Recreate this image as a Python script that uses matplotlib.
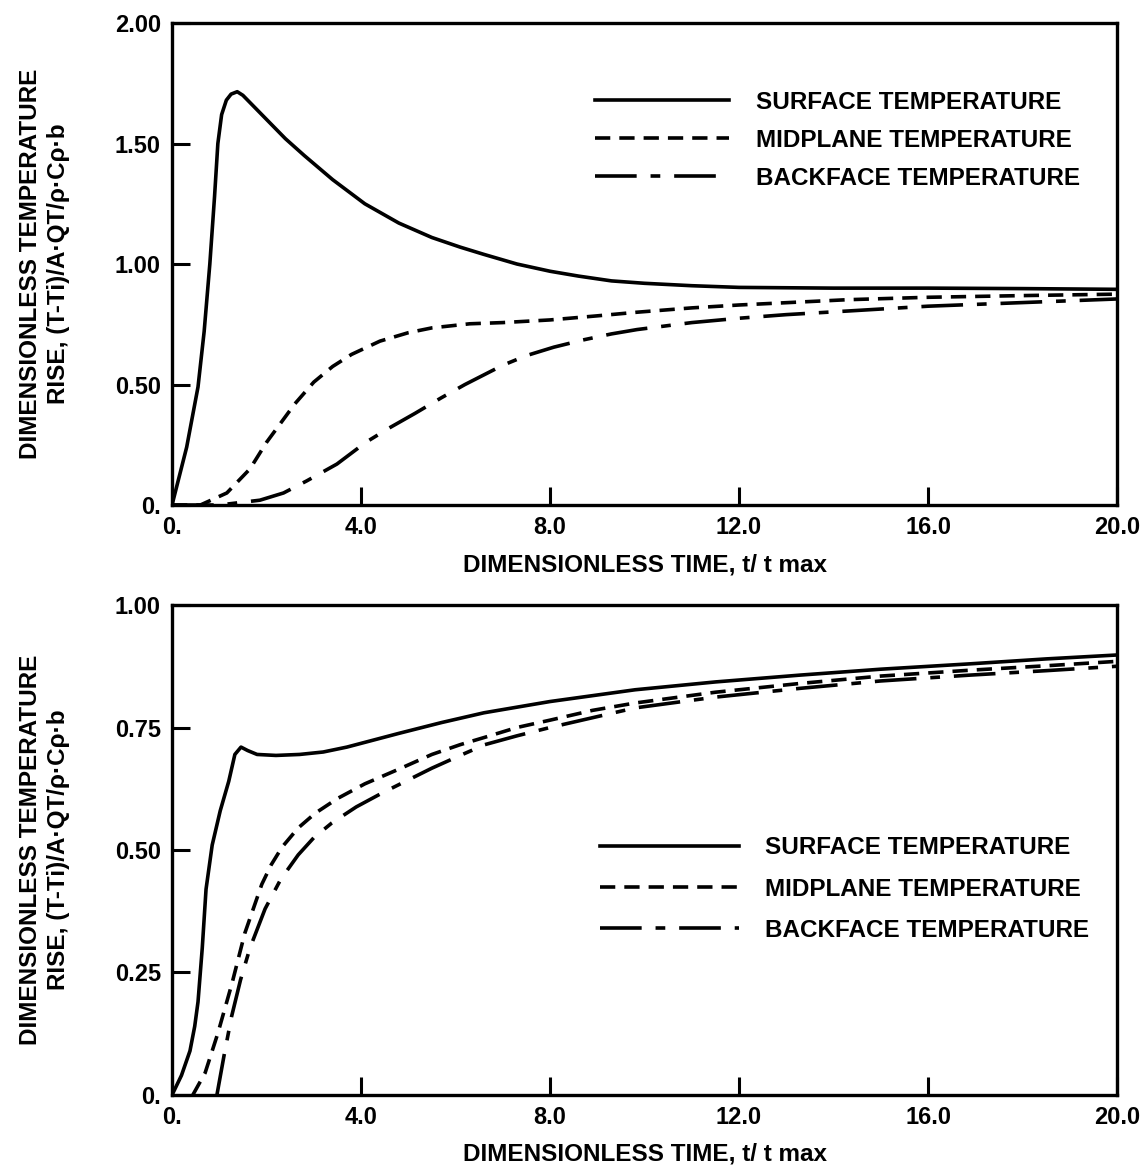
import matplotlib
matplotlib.use("Agg")
import matplotlib.pyplot as plt

plt.rcParams['font.family'] = ['Liberation Sans', 'DejaVu Sans']
plt.rcParams['font.weight'] = 'bold'
plt.rcParams['lines.scale_dashes'] = False

t_sup1 = [0, 0.31, 0.55, 0.68, 0.8, 0.9, 0.97, 1.05, 1.15, 1.25, 1.38, 1.5, 1.6, 1.7, 2.0, 2.4,
          2.8, 3.4, 4.08, 4.8, 5.5, 6.1, 6.6, 7.3, 8, 8.6, 9.3, 10, 11, 12, 14, 16, 18, 20]
T_sup1 = [0, 0.24, 0.49, 0.72, 1.0, 1.28, 1.5, 1.62, 1.68, 1.705, 1.715, 1.70, 1.68, 1.66, 1.60,
          1.52, 1.45, 1.35, 1.25, 1.17, 1.11, 1.07, 1.04, 1.0, 0.97, 0.95, 0.93, 0.92, 0.91, 0.903,
          0.90, 0.90, 0.898, 0.895]

t_mid1 = [0, 0.6, 1.16, 1.65, 2.0, 2.3, 2.6, 3.0, 3.4, 3.8, 4.4, 5.0, 5.5, 6.3, 7, 8, 9, 9.84,
          11, 12, 14.3, 16, 18, 20]
T_mid1 = [0, 0, 0.05, 0.15, 0.26, 0.34, 0.42, 0.51, 0.575, 0.625, 0.68, 0.715, 0.735, 0.752,
          0.757, 0.768, 0.785, 0.80, 0.818, 0.83, 0.852, 0.862, 0.869, 0.875]

t_back1 = [0, 1.0, 1.86, 2.36, 2.85, 3.49, 4.1, 4.6, 5.14, 5.7, 6.2, 6.6, 7.0, 7.5, 8.08, 8.7,
           9.3, 9.84, 11, 12, 13, 14.3, 16, 18, 20]
T_back1 = [0, 0, 0.02, 0.05, 0.10, 0.17, 0.26, 0.32, 0.38, 0.445, 0.50, 0.54, 0.58, 0.62, 0.655,
           0.685, 0.71, 0.728, 0.757, 0.775, 0.79, 0.805, 0.825, 0.84, 0.855]

t_sup2 = [0, 0.2, 0.38, 0.48, 0.55, 0.64, 0.72, 0.85, 1.02, 1.2, 1.33, 1.46, 1.6, 1.8, 2.2, 2.7,
          3.2, 3.7, 4.8, 5.7, 6.6, 8, 9.8, 11.5, 13.3, 15, 16.9, 18.5, 20]
T_sup2 = [0, 0.04, 0.09, 0.14, 0.19, 0.30, 0.42, 0.51, 0.58, 0.64, 0.695, 0.71, 0.703, 0.695,
          0.693, 0.695, 0.70, 0.71, 0.738, 0.76, 0.78, 0.803, 0.827, 0.843, 0.857, 0.869, 0.88,
          0.89, 0.898]

t_mid2 = [0.44, 0.7, 0.97, 1.27, 1.54, 1.9, 2.1, 2.33, 2.67, 3.03, 3.5, 4.08, 4.8, 5.5, 6.1, 6.62,
          7.3, 8, 8.9, 9.8, 11.5, 13.3, 15, 16.9, 18.5, 20]
T_mid2 = [0, 0.045, 0.126, 0.228, 0.33, 0.43, 0.47, 0.506, 0.545, 0.575, 0.605, 0.635, 0.665,
          0.695, 0.715, 0.73, 0.75, 0.765, 0.785, 0.80, 0.822, 0.84, 0.855, 0.867, 0.876, 0.885]

t_back2 = [0.95, 1.1, 1.26, 1.45, 1.65, 1.97, 2.3, 2.67, 3.0, 3.38, 3.9, 4.44, 5.0, 5.5, 6.1,
           6.62, 7.3, 8, 8.9, 9.8, 11.5, 13.3, 15, 16.9, 18.5, 20]
T_back2 = [0, 0.08, 0.16, 0.235, 0.30, 0.38, 0.44, 0.49, 0.525, 0.555, 0.588, 0.616, 0.643,
           0.667, 0.693, 0.715, 0.733, 0.75, 0.77, 0.79, 0.812, 0.83, 0.845, 0.857, 0.866, 0.875]

x_ticks = [0, 4, 8, 12, 16, 20]
x_tick_labels = ['0.', '4.0', '8.0', '12.0', '16.0', '20.0']
y1_ticks = [0, 0.5, 1.0, 1.5, 2.0]
y1_tick_labels = ['0.', '0.50', '1.00', '1.50', '2.00']
y2_ticks = [0, 0.25, 0.5, 0.75, 1.0]
y2_tick_labels = ['0.', '0.25', '0.50', '0.75', '1.00']

nomes = ['SURFACE TEMPERATURE', 'MIDPLANE TEMPERATURE', 'BACKFACE TEMPERATURE']
xlabel = 'DIMENSIONLESS TIME, t/ t max'
ylabel = 'DIMENSIONLESS TEMPERATURE\nRISE, (T-Ti)/A\u00b7QT/\u03c1\u00b7C\u03c1\u00b7b'

estilo_mid = (0, (11, 6.5))
estilo_back = (0, (30, 10, 7, 10))
lw = 2.6

fig = plt.figure(figsize=(11.43, 11.75), dpi=100)
ax1 = fig.add_axes([0.1505, 0.5702, 0.8268, 0.4102])
ax2 = fig.add_axes([0.1505, 0.0681, 0.8268, 0.4170])


def formatar(ax, yticks, ylabels, ymax):
    ax.set_xlim(0, 20)
    ax.set_ylim(0, ymax)
    ax.set_xticks(x_ticks)
    ax.set_xticklabels(x_tick_labels)
    ax.set_yticks(yticks)
    ax.set_yticklabels(ylabels)
    ax.tick_params(direction='in', length=13, width=2.2, labelsize=17, pad=8)
    for s in ax.spines.values():
        s.set_linewidth(2.4)
    ax.set_xlabel(xlabel, fontsize=17.5, fontweight='bold', labelpad=10)
    ax.set_ylabel(ylabel, fontsize=17.5, fontweight='bold', linespacing=1.3)
    ax.yaxis.set_label_coords(-0.108, 0.5)


# grafico de cima
ax1.plot(t_sup1, T_sup1, color='black', lw=lw, label=nomes[0])
ax1.plot(t_mid1, T_mid1, color='black', lw=lw, linestyle=estilo_mid, label=nomes[1])
ax1.plot(t_back1, T_back1, color='black', lw=lw, linestyle=estilo_back, label=nomes[2])
formatar(ax1, y1_ticks, y1_tick_labels, 2.0)
ax1.legend(loc='upper left', bbox_to_anchor=(0.448, 0.86), frameon=False, fontsize=17.5,
           borderpad=0, borderaxespad=0, handlelength=5.5, handletextpad=1.1,
           labelspacing=0.62)

# grafico de baixo
ax2.plot(t_sup2, T_sup2, color='black', lw=lw, label=nomes[0])
ax2.plot(t_mid2, T_mid2, color='black', lw=lw, linestyle=estilo_mid, label=nomes[1])
ax2.plot(t_back2, T_back2, color='black', lw=lw, linestyle=estilo_back, label=nomes[2])
formatar(ax2, y2_ticks, y2_tick_labels, 1.0)
ax2.legend(loc='upper left', bbox_to_anchor=(0.453, 0.528), frameon=False, fontsize=17.5,
           borderpad=0, borderaxespad=0, handlelength=5.7, handletextpad=1.1,
           labelspacing=0.75)

plt.savefig('out.png', dpi=100)
